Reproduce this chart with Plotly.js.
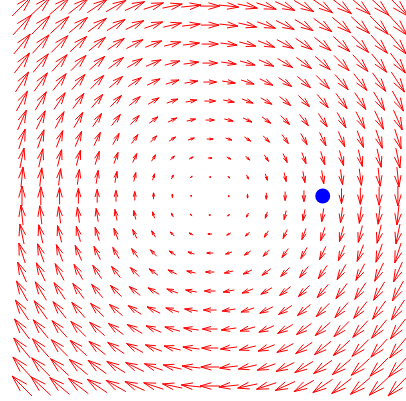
<!DOCTYPE html>
<html>
<head>
<meta charset="utf-8">
<script src="https://cdn.plot.ly/plotly-3.0.1.min.js"></script>
<style>html,body{margin:0;padding:0;background:#fff;}#chart{width:406px;height:401px;}</style>
</head>
<body>
<div id="chart"></div>
<script>
// grid coordinates
var xGrid = [-1.0,-0.9,-0.8,-0.7,-0.6,-0.5,-0.4,-0.3,-0.2,-0.1,0,0.1,0.2,0.3,0.4,0.5,0.6,0.7,0.8,0.9,1.0];
var yGrid = [-1.0,-0.9,-0.8,-0.7,-0.6,-0.5,-0.4,-0.3,-0.2,-0.1,0,0.1,0.2,0.3,0.4,0.5,0.6,0.7,0.8,0.9,1.0];
// horizontal component, one value per row (depends on y only)
var uByRow = [-1.05,-0.97,-0.88,-0.8,-0.7,-0.59,-0.47,-0.34,-0.22,-0.11,0,0.11,0.22,0.34,0.47,0.59,0.7,0.8,0.88,0.97,1.05];
// vertical component, one value per column (depends on x only)
var vByCol = [1.05,0.97,0.88,0.8,0.7,0.59,0.47,0.34,0.22,0.11,0,-0.11,-0.22,-0.34,-0.47,-0.59,-0.7,-0.8,-0.88,-0.97,-1.05];
// highlighted point
var pointX = [0.6];
var pointY = [0];

var scale = 0.1, barbFrac = 0.6, barbAngle = 16 * Math.PI / 180;
var lx = [], ly = [];
for (var j = 0; j < yGrid.length; j++) {
  for (var i = 0; i < xGrid.length; i++) {
    var u = uByRow[j] * scale, v = vByCol[i] * scale;
    var len = Math.sqrt(u*u + v*v);
    if (len === 0) continue;
    var x0 = xGrid[i] - u/2, y0 = yGrid[j] - v/2;
    var x1 = xGrid[i] + u/2, y1 = yGrid[j] + v/2;
    lx.push(x0, x1, null); ly.push(y0, y1, null);
    var ang = Math.atan2(v, u), bl = len * barbFrac;
    var a1 = ang + Math.PI - barbAngle, a2 = ang + Math.PI + barbAngle;
    lx.push(x1 + bl*Math.cos(a1), x1, x1 + bl*Math.cos(a2), null);
    ly.push(y1 + bl*Math.sin(a1), y1, y1 + bl*Math.sin(a2), null);
  }
}

var traces = [
  {type:'scatter', mode:'lines', x: lx, y: ly, line:{color:'red', width:1}, hoverinfo:'skip'},
  {type:'scatter', mode:'markers', x: pointX, y: pointY, marker:{color:'blue', size:15}}
];
var layout = {
  width:406, height:401,
  margin:{l:0,r:0,t:0,b:0},
  showlegend:false,
  paper_bgcolor:'#fff', plot_bgcolor:'#fff',
  xaxis:{range:[-1.117,1.043], visible:false, showgrid:false, zeroline:false},
  yaxis:{range:[-1.079,1.032], visible:false, showgrid:false, zeroline:false}
};
Plotly.newPlot('chart', traces, layout, {displayModeBar:false, staticPlot:true});
</script>
</body>
</html>
